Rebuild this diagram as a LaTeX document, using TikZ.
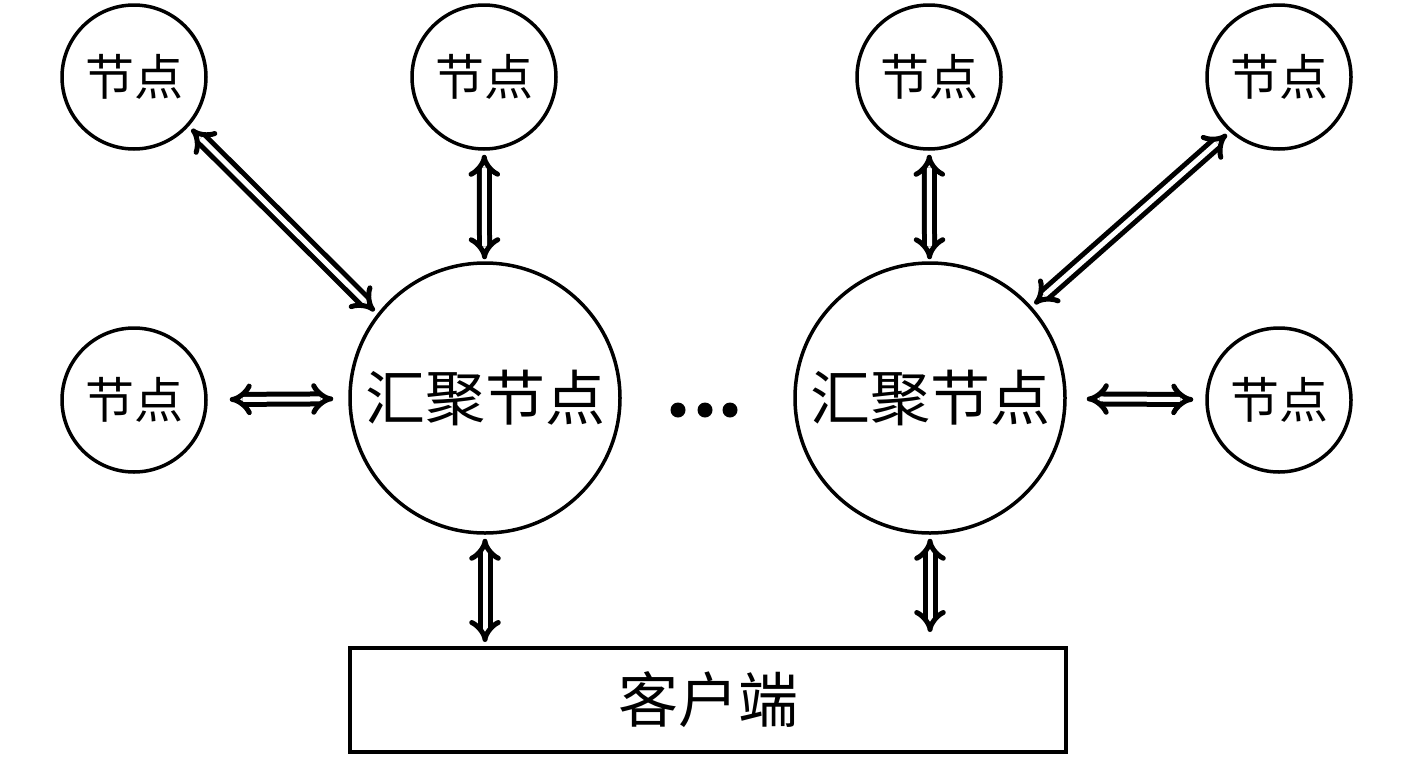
\documentclass[tikz,border=0pt]{standalone}
\usepackage{fontspec}
\newfontfamily\cjk{Noto Sans CJK SC}
\usetikzlibrary{arrows.meta}
\begin{document}
\begin{tikzpicture}[x=1pt,y=-1pt,
  small/.style={circle,draw,line width=3.5pt,minimum size=144pt,inner sep=0pt,font=\cjk\fontsize{49}{52}\selectfont},
  big/.style={circle,draw,line width=3.5pt,minimum size=270pt,inner sep=0pt,font=\cjk\fontsize{60}{64}\selectfont},
  client/.style={rectangle,draw,line width=4pt,minimum width=716pt,minimum height=104pt,inner sep=0pt,font=\cjk\fontsize{60}{64}\selectfont},
  dbl/.style={line width=5pt,double=white,double distance=5pt,{Implies[length=12pt,width=32pt]}-{Implies[length=12pt,width=32pt]}}
]
\useasboundingbox (0,0) rectangle (1417,758);
\node[small] (n1) at (134,77) {节点};
\node[small] (n2) at (484,77) {节点};
\node[small] (n3) at (929,77) {节点};
\node[small] (n4) at (1279,77) {节点};
\node[small] (n5) at (134,400) {节点};
\node[small] (n6) at (1279,400) {节点};
\node[big] (a1) at (485,398) {汇聚节点};
\node[big] (a2) at (930,398) {汇聚节点};
\node[client] (c) at (708,700) {客户端};
\foreach \x in {678,705,730} \fill (\x,410) circle (7.5pt);
\draw[dbl,shorten <=4pt,shorten >=4pt] (n1.-42) -- (a1.142);
\draw[dbl,shorten <=4pt,shorten >=2pt] (n2) -- (a1);
\draw[dbl,shorten <=4pt,shorten >=2pt] (n3) -- (a2);
\draw[dbl,shorten <=4pt,shorten >=4pt] (n4.228) -- (a2.42);
\draw[dbl,shorten <=22pt,shorten >=15pt] (n5) -- (a1);
\draw[dbl,shorten <=20pt,shorten >=12pt] (a2) -- (n6);
\draw[dbl,shorten <=4pt,shorten >=4pt] (a1) -- (c.north -| a1);
\draw[dbl,shorten <=4pt,shorten >=14pt] (a2.south) -- (c.north -| a2);
\end{tikzpicture}
\end{document}
